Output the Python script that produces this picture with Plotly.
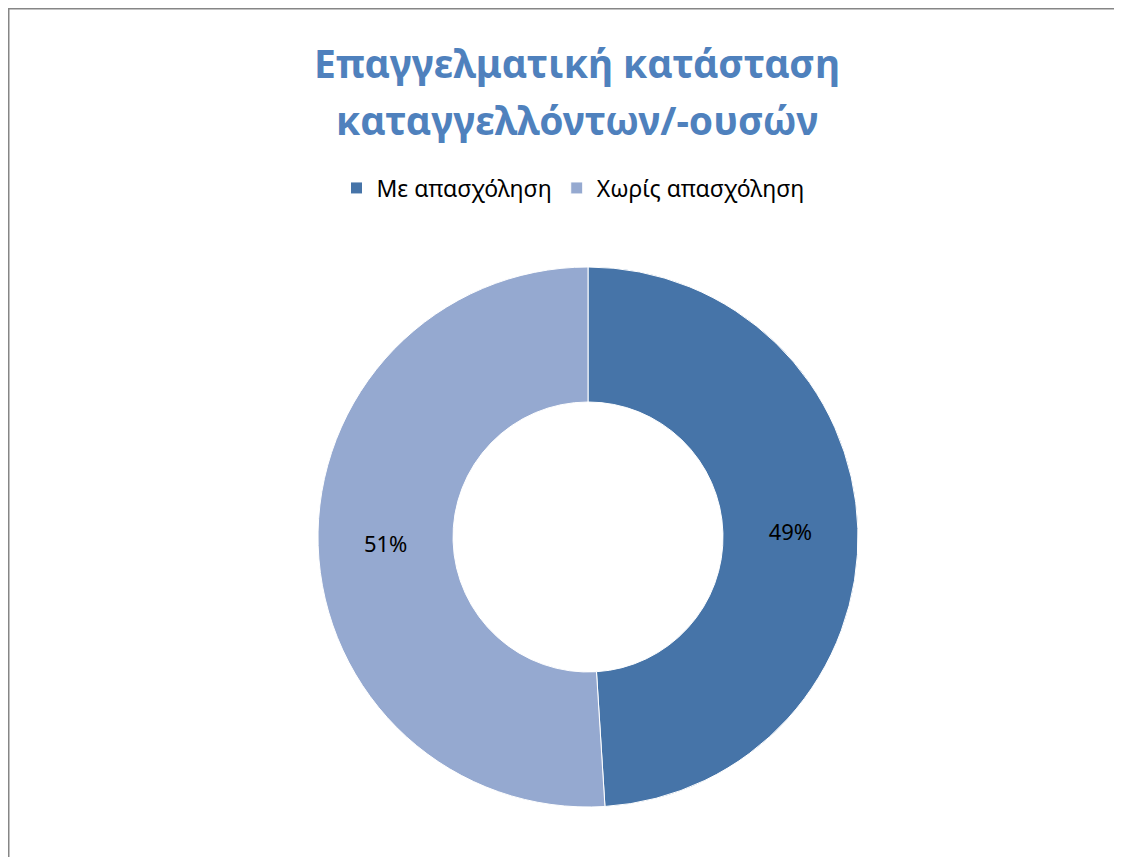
import plotly.graph_objects as go

categories = ["Με απασχόληση", "Χωρίς απασχόληση"]
values = [49, 51]
colors = ["#4674A8", "#95A9D0"]
title_lines = ["Επαγγελματική κατάσταση", "καταγγελλόντων/-ουσών"]

W, H = 1122, 857
OFF = 8  # page offset of the plot div


def px(x):
    return (x - OFF) / W


def py(y):
    return 1 - (y - OFF) / H


cx, cy, R = 588, 537, 270
FONT = "Noto Sans, Liberation Sans, sans-serif"

fig = go.Figure()
fig.add_trace(go.Pie(
    labels=categories,
    values=values,
    hole=0.5,
    sort=False,
    direction="clockwise",
    rotation=0,
    marker=dict(colors=colors, line=dict(color="white", width=1)),
    textinfo="percent",
    texttemplate="%{percent:.0%}",
    textposition="inside",
    insidetextorientation="horizontal",
    textfont=dict(family=FONT, size=22, color="black"),
    domain=dict(x=[px(cx - R), px(cx + R)], y=[py(cy + R), py(cy - R)]),
    showlegend=True,
    hoverinfo="label+percent",
))

annotations = []
for txt, yc in zip(title_lines, [62, 120]):
    annotations.append(dict(
        text="<b>" + txt + "</b>", xref="paper", yref="paper",
        x=px(577), y=py(yc), xanchor="center", yanchor="middle",
        showarrow=False,
        font=dict(family=FONT, size=39, color="#4F81BD"),
    ))

fig.update_layout(
    width=W, height=H,
    margin=dict(l=0, r=0, t=0, b=0),
    paper_bgcolor="white",
    plot_bgcolor="white",
    annotations=annotations,
    legend=dict(
        orientation="h",
        x=px(573), xanchor="center",
        y=py(188), yanchor="middle",
        font=dict(family=FONT, size=23, color="black"),
        itemwidth=30,
        traceorder="normal",
    ),
    shapes=[dict(
        type="rect", xref="paper", yref="paper",
        x0=px(8.5), y0=-0.1, x1=1.1, y1=py(8.5),
        line=dict(color="#868686", width=2),
        fillcolor="rgba(0,0,0,0)",
        layer="above",
    )],
)

fig.write_html("out.html")
